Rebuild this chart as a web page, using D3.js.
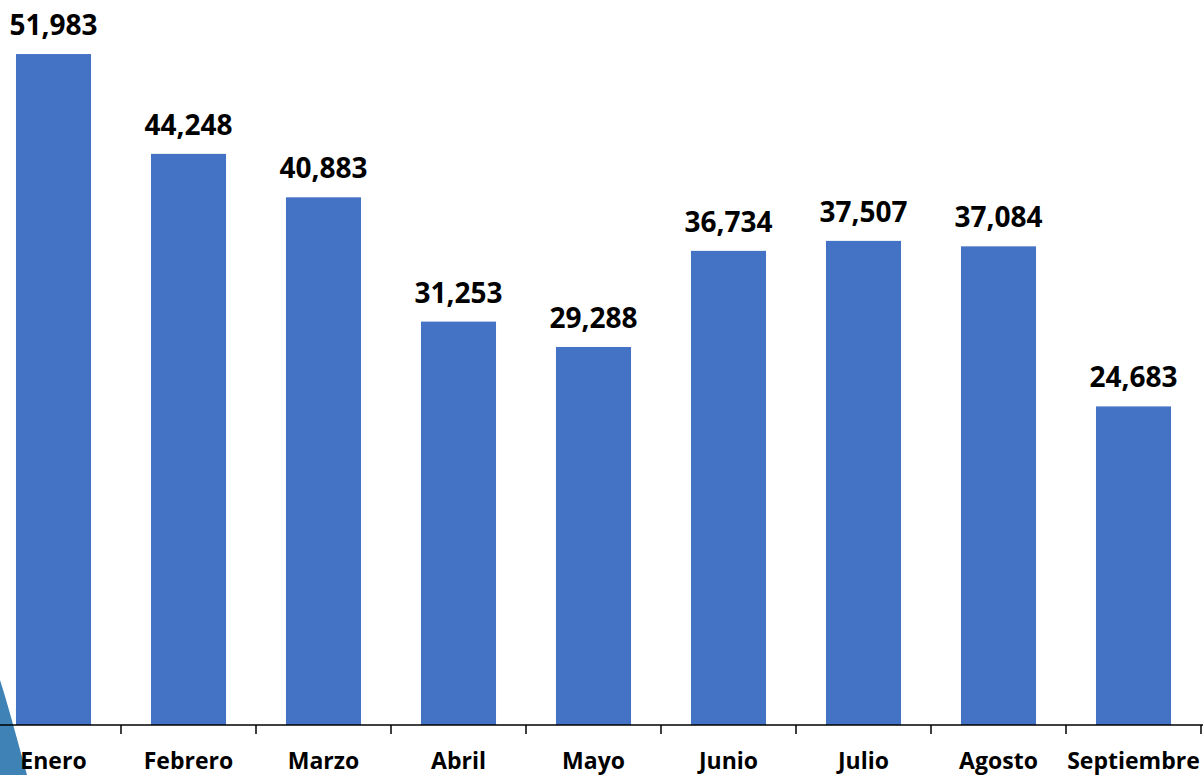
<!DOCTYPE html>
<html>
<head>
<meta charset="utf-8">
<script src="https://cdn.jsdelivr.net/npm/d3@7"></script>
<style>
  body { margin: 0; background: #fff; }
  svg { display: block; }
</style>
</head>
<body>
<div id="chart"></div>
<script>
// monthly totals
const months = ['Enero', 'Febrero', 'Marzo', 'Abril', 'Mayo', 'Junio', 'Julio', 'Agosto', 'Septiembre'];
const totals = [51983, 44248, 40883, 31253, 29288, 36734, 37507, 37084, 24683];

const W = 1203;
const H = 775;
const baseY = 725;
const color = '#4472C4';

const svg = d3.select('#chart').append('svg')
    .attr('width', W)
    .attr('height', H);

// piece of a background logo peeking in at the bottom left
svg.append('path')
    .attr('d', 'M0,680 C8,705 16,735 27,775 L0,775 Z')
    .attr('fill', '#3e82b6');

const x = d3.scaleBand()
    .domain(months)
    .range([-14, 1201])
    .paddingInner(0.444)
    .paddingOuter(0.222);

const y = d3.scaleLinear()
    .domain([0, 56170])
    .range([baseY, 0]);

const data = months.map((m, i) => ({month: m, value: totals[i]}));

svg.selectAll('rect.bar')
    .data(data)
    .enter()
    .append('rect')
    .attr('class', 'bar')
    .attr('x', d => x(d.month))
    .attr('y', d => y(d.value))
    .attr('width', x.bandwidth())
    .attr('height', d => baseY - y(d.value))
    .attr('fill', color);

svg.selectAll('text.val')
    .data(data)
    .enter()
    .append('text')
    .attr('class', 'val')
    .attr('x', d => x(d.month) + x.bandwidth() / 2)
    .attr('y', d => y(d.value) - 19)
    .attr('text-anchor', 'middle')
    .style('font-family', '"Open Sans", sans-serif')
    .style('font-weight', 'bold')
    .style('font-size', '28px')
    .attr('fill', '#000')
    .text(d => d3.format(',')(d.value));

// axis line + ticks on band boundaries
const axis = svg.append('g');
axis.append('line')
    .attr('x1', 0).attr('x2', W)
    .attr('y1', baseY).attr('y2', baseY)
    .attr('stroke', '#000')
    .attr('stroke-width', 1.5);

const step = x.step();
const edges = months.map((m, i) => -14 + step * (i + 1));
axis.selectAll('line.tick')
    .data(edges)
    .enter()
    .append('line')
    .attr('class', 'tick')
    .attr('x1', d => d).attr('x2', d => d)
    .attr('y1', baseY).attr('y2', baseY + 9)
    .attr('stroke', '#000')
    .attr('stroke-width', 1.5);

axis.selectAll('text.cat')
    .data(months)
    .enter()
    .append('text')
    .attr('class', 'cat')
    .attr('x', d => x(d) + x.bandwidth() / 2)
    .attr('y', 769)
    .attr('text-anchor', 'middle')
    .style('font-family', '"Open Sans", sans-serif')
    .style('font-weight', 'bold')
    .style('font-size', '23px')
    .attr('fill', '#000')
    .text(d => d);
</script>
</body>
</html>
